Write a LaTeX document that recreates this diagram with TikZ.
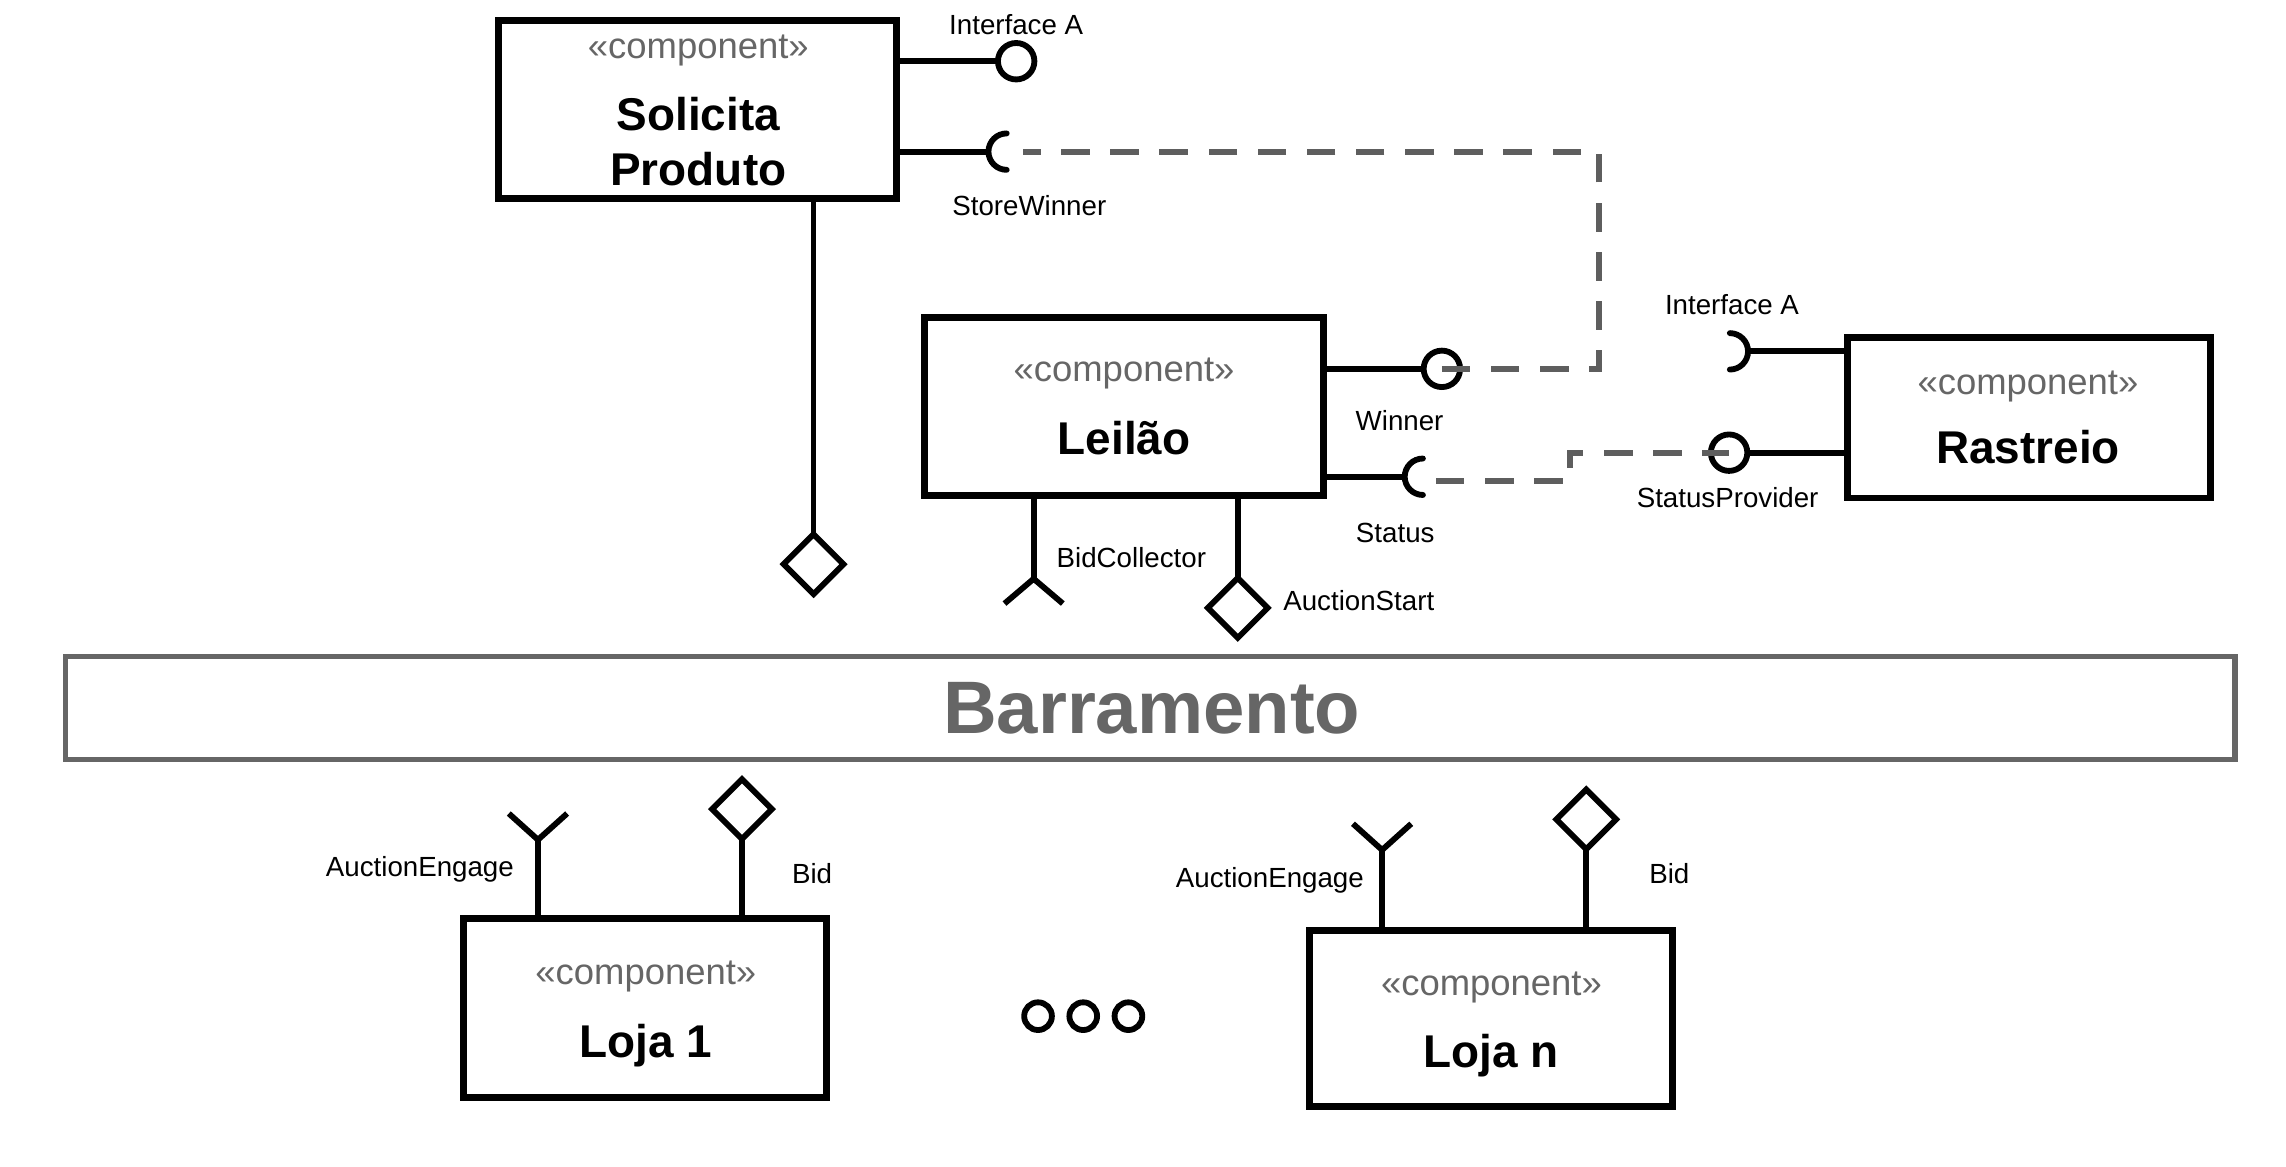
\documentclass[tikz,border=0pt]{standalone}
\usepackage{fontspec}
\setmainfont{Liberation Sans}
\usetikzlibrary{shapes.geometric}
\definecolor{stgray}{HTML}{666666}
\definecolor{dgray}{HTML}{5E5E5E}
\begin{document}
\begin{tikzpicture}[x=1pt,y=-1pt,
  box/.style={draw, line width=4.6pt, inner sep=0pt, outer sep=0pt},
  stereo/.style={text=stgray, font=\fontsize{25}{30}\selectfont, anchor=base, inner sep=0pt},
  cname/.style={font=\fontsize{31.5}{38}\selectfont\bfseries, anchor=base, inner sep=0pt},
  lbl/.style={font=\fontsize{19}{23}\selectfont, anchor=base, inner sep=0pt},
  conn/.style={line width=4pt},
  dline/.style={line width=4pt, draw=dgray, dash pattern=on 19.5pt off 14.2pt},
  lolli/.style={circle, draw, line width=4pt, minimum size=25pt, inner sep=0pt, outer sep=0pt},
  diam/.style={diamond, draw, line width=4pt, minimum width=41pt, minimum height=41pt, inner sep=0pt, outer sep=0pt},
  dotc/.style={circle, draw, line width=4pt, minimum size=19pt, inner sep=0pt}]
\useasboundingbox (0,0) rectangle (1568,800);

% ---------- Solicita Produto
\node[box, minimum width=273pt, minimum height=122pt] (sp) at (478.5,75) {};
\node[stereo] (sp-s) at (479,40) {«component»};
\node[cname] (sp-n1) at (479,89.5) {Solicita};
\node[cname] (sp-n2) at (479,127.5) {Produto};
% Interface A (provided)
\node[lolli] (ia1) at (697,42) {};
\draw[conn] (sp.east |- ia1) -- (ia1.west);
\node[lbl] (ia1-l) at (697,24) {Interface A};
% StoreWinner (required socket)
\coordinate (swl) at (678,104);
\draw[conn] (sp.east |- swl) -- (swl);
\draw[conn, line cap=round] (swl) arc[start angle=180, end angle=90, radius=12.5]
  (swl) arc[start angle=180, end angle=270, radius=12.5];
\node[lbl] (sw-l) at (706,148) {StoreWinner};
% bus link
\node[diam] (spd) at (558,387) {};
\draw[conn] (sp.south -| spd) -- (spd.north);

% ---------- Leilao
\node[box, minimum width=274pt, minimum height=122pt] (lei) at (771,279) {};
\node[stereo] (lei-s) at (771,262) {«component»};
\node[cname] (lei-n) at (771,312) {Leilão};
% Winner (provided)
\node[lolli] (win) at (989,253) {};
\draw[conn] (lei.east |- win) -- (win.west);
\node[lbl] (win-l) at (960,295) {Winner};
% Status (required)
\coordinate (stl) at (963.5,327);
\draw[conn] (lei.east |- stl) -- (stl);
\draw[conn, line cap=round] (stl) arc[start angle=180, end angle=90, radius=12.5]
  (stl) arc[start angle=180, end angle=270, radius=12.5];
\node[lbl] (st-l) at (957,372) {Status};
% BidCollector
\coordinate (bcv) at (709,397);
\draw[conn] (lei.south -| bcv) -- (bcv);
\draw[conn] (bcv) -- ++(-20,17) (bcv) -- ++(20,17);
\node[lbl] (bc-l) at (776,389) {BidCollector};
% AuctionStart
\node[diam] (asd) at (849,417) {};
\draw[conn] (lei.south -| asd) -- (asd.north);
\node[lbl] (as-l) at (932,419) {AuctionStart};

% ---------- Rastreio
\node[box, minimum width=249pt, minimum height=110pt] (ras) at (1391.5,286.5) {};
\node[stereo] (ras-s) at (1391,270.5) {«component»};
\node[cname] (ras-n) at (1391,318) {Rastreio};
% Interface A (required)
\coordinate (iar) at (1199,241);
\draw[conn] (ras.west |- iar) -- (iar);
\draw[conn, line cap=round] (iar) arc[start angle=0, end angle=90, radius=12.5]
  (iar) arc[start angle=0, end angle=-90, radius=12.5];
\node[lbl] (iar-l) at (1188,216) {Interface A};
% StatusProvider (provided)
\node[lolli] (spv) at (1186,310.5) {};
\draw[conn] (ras.west |- spv) -- (spv.east);
\node[lbl] (spv-l) at (1185,348) {StatusProvider};

% ---------- dashed dependencies
\coordinate (d1) at (1097,104);
\coordinate (d1e) at (702,104);
\draw[dline] (win.center) -| (d1) -- (d1e);
\coordinate (d2s) at (985,330);
\coordinate (d2m) at (1077,330);
\draw[dline] (d2s) -- (d2m) |- (spv.center);

% ---------- Barramento
\node[box, draw=stgray, line width=3.5pt, minimum width=1488pt, minimum height=71pt] (bus) at (789,485.5) {};
\node[font=\fontsize{51}{60}\selectfont\bfseries, text=stgray, anchor=base, inner sep=0pt] (bus-t) at (790,503) {Barramento};

% ---------- Loja 1
\node[box, minimum width=249pt, minimum height=123pt] (l1) at (442.5,691.5) {};
\node[stereo] (l1-s) at (443,675) {«component»};
\node[cname] (l1-n) at (443,725.5) {Loja 1};
\coordinate (l1ae) at (369,576);
\draw[conn] (l1.north -| l1ae) -- (l1ae);
\draw[conn] (l1ae) -- ++(-20,-18) (l1ae) -- ++(20,-18);
\node[lbl] (l1ae-l) at (288,601) {AuctionEngage};
\node[diam] (l1b) at (509,555) {};
\draw[conn] (l1.north -| l1b) -- (l1b.south);
\node[lbl] (l1b-l) at (557,606) {Bid};

% ---------- ellipsis
\node[dotc] (e1) at (712,697) {};
\node[dotc] (e2) at (743,697) {};
\node[dotc] (e3) at (774,697) {};

% ---------- Loja n
\node[box, minimum width=249pt, minimum height=121pt] (ln) at (1022.5,698.5) {};
\node[stereo] (ln-s) at (1023,682.5) {«component»};
\node[cname] (ln-n) at (1023,732.5) {Loja n};
\coordinate (lnae) at (948,583);
\draw[conn] (ln.north -| lnae) -- (lnae);
\draw[conn] (lnae) -- ++(-20,-18) (lnae) -- ++(20,-18);
\node[lbl] (lnae-l) at (871,609) {AuctionEngage};
\node[diam] (lnb) at (1088,562) {};
\draw[conn] (ln.north -| lnb) -- (lnb.south);
\node[lbl] (lnb-l) at (1145,606) {Bid};
\end{tikzpicture}
\end{document}
